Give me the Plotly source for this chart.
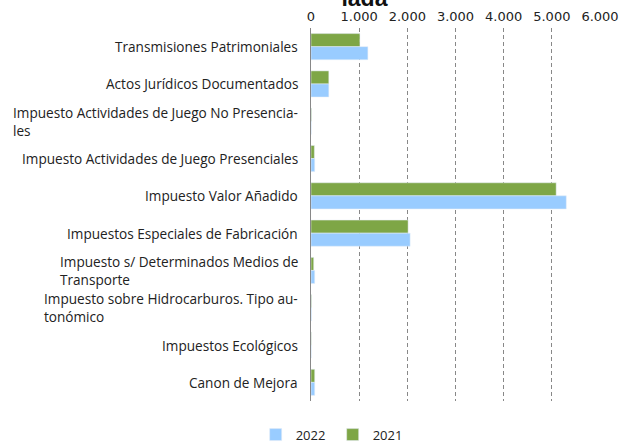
import plotly.graph_objects as go

categories = [
    "Transmisiones Patrimoniales",
    "Actos Jurídicos Documentados",
    "Impuesto Actividades de Juego No Presencia-<br>les",
    "Impuesto Actividades de Juego Presenciales",
    "Impuesto Valor Añadido",
    "Impuestos Especiales de Fabricación",
    "Impuesto s/ Determinados Medios de<br>Transporte",
    "Impuesto sobre Hidrocarburos. Tipo au-<br>tonómico",
    "Impuestos Ecológicos",
    "Canon de Mejora",
]
values_2021 = [1015, 370, 10, 70, 5090, 2016, 56, 10, 5, 77]
values_2022 = [1181, 370, 5, 77, 5300, 2058, 77, 10, 5, 77]
x_ticks = [0, 1000, 2000, 3000, 4000, 5000, 6000]

fig = go.Figure()
fig.add_trace(go.Bar(y=categories, x=values_2021, name="2021", orientation="h",
                     marker=dict(color="#7EA646"), legendrank=2))
fig.add_trace(go.Bar(y=categories, x=values_2022, name="2022", orientation="h",
                     marker=dict(color="#99CCFF"), legendrank=1))

for c in categories:
    fig.add_annotation(x=0, xref="paper", y=c, yref="y", text=c, showarrow=False,
                       xanchor="right", align="left", xshift=-11,
                       font=dict(family="Open Sans", size=13.6, color="#222"))

fig.update_layout(
    width=620, height=444,
    margin=dict(l=311, r=20, t=28, b=43, autoexpand=False),
    paper_bgcolor="white", plot_bgcolor="white",
    separators=",.",
    barmode="group", bargap=0.3, bargroupgap=0,
    title=dict(text="<b>lada</b>", x=0.185, xref="paper", xanchor="center", y=1, yref="paper",
               yanchor="bottom", pad=dict(b=22),
               font=dict(family="Liberation Sans", size=23, color="#111")),
    xaxis=dict(side="top", range=[0, 6000], tickvals=x_ticks, tickformat=",d",
               showgrid=True, gridcolor="#888", griddash="4px,3px", gridwidth=1,
               zeroline=False, showline=False, ticks="", automargin=False,
               ticklabelstandoff=3,
               tickfont=dict(family="DejaVu Sans", size=13, color="#222")),
    yaxis=dict(autorange="reversed", showticklabels=False, showline=True,
               linecolor="#888", linewidth=1, showgrid=False, zeroline=False,
               automargin=False),
    showlegend=True,
    legend=dict(orientation="h", x=0.075, xanchor="center", y=-0.05, yanchor="top",
                font=dict(family="Open Sans", size=13, color="#222"), itemwidth=30,
                entrywidth=32),
)

fig.write_html("out.html", config={"displayModeBar": False},
               post_script="document.body.style.margin='0';")
